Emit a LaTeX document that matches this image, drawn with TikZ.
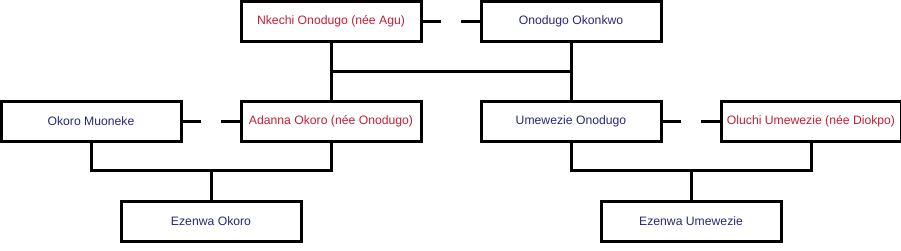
\documentclass[tikz,border=0pt]{standalone}
\usepackage{fontspec}
\setmainfont{Liberation Sans}
\definecolor{fem}{RGB}{196,32,52}
\definecolor{mal}{RGB}{40,40,120}
\begin{document}
\begin{tikzpicture}[x=1pt,y=-1pt,
  person/.style={draw=black,line width=3pt,minimum width=180pt,minimum height=40pt,inner sep=0pt,font=\fontsize{12.2}{14}\selectfont,fill=white},
  female/.style={person,text=fem},
  male/.style={person,text=mal},
  link/.style={line width=3pt}]
\useasboundingbox (0,0) rectangle (901,250);
% top
\node[female] (nk) at (331,21) {Nkechi Onodugo (née Agu)};
\node[male] (oo) at (571,21) {Onodugo Okonkwo};
% middle
\node[male] (om) at (91,121) {Okoro Muoneke};
\node[female] (ad) at (331,121) {Adanna Okoro (née Onodugo)};
\node[male] (uo) at (571,121) {Umewezie Onodugo};
\node[female] (ol) at (811,121) {Oluchi Umewezie (née Diokpo)};
% bottom
\node[male] (eo) at (211,221) {Ezenwa Okoro};
\node[male] (eu) at (691,221) {Ezenwa Umewezie};
% marriage stubs
\coordinate (m1a) at (441,21); \coordinate (m1b) at (461,21);
\draw[link] (nk.east) -- (m1a);
\draw[link] (m1b) -- (oo.west);
\coordinate (m2a) at (201,121); \coordinate (m2b) at (221,121);
\draw[link] (om.east) -- (m2a);
\draw[link] (m2b) -- (ad.west);
\coordinate (m3a) at (681,121); \coordinate (m3b) at (701,121);
\draw[link] (uo.east) -- (m3a);
\draw[link] (m3b) -- (ol.west);
% descent top
\draw[link] (nk.south) -- (ad.north);
\draw[link] (oo.south) -- (uo.north);
\draw[link] (331,71) -- (571,71);
% left family
\coordinate (jl) at (211,170);
\draw[link] (om.south) |- (jl) -| (ad.south);
\draw[link] (jl) -- (eo.north);
% right family
\coordinate (jr) at (691,170);
\draw[link] (uo.south) |- (jr) -| (ol.south);
\draw[link] (jr) -- (eu.north);
\end{tikzpicture}
\end{document}
